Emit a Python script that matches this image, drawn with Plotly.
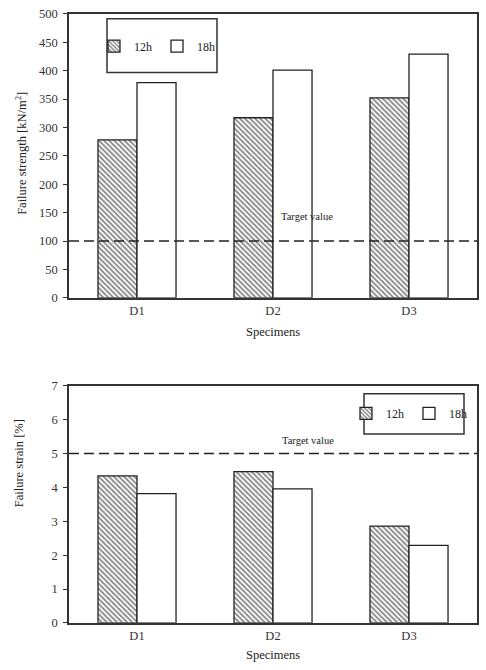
import plotly.graph_objects as go

# ---- data ----
specimens = ["D1", "D2", "D3"]
strength_12h = [278, 317, 352]
strength_18h = [379, 401, 429]
strain_12h = [4.34, 4.47, 2.86]
strain_18h = [3.82, 3.96, 2.29]
strength_target = 100
strain_target = 5
series_names = ["12h", "18h"]

W, H = 486, 670
FONT = "Liberation Serif"

def px_x(p):
    return p / W

def px_y(p):
    return 1 - p / H

hatch = dict(shape="\\", size=3.6, solidity=0.5, fgcolor="#111", bgcolor="white")
line = dict(color="#222", width=1.3)

fig = go.Figure()
# top chart
fig.add_trace(go.Bar(x=specimens, y=strength_12h, name=series_names[0], xaxis="x", yaxis="y",
                     marker=dict(color="white", pattern=hatch, line=line), legend="legend"))
fig.add_trace(go.Bar(x=specimens, y=strength_18h, name=series_names[1], xaxis="x", yaxis="y",
                     marker=dict(color="white", line=line), legend="legend"))
# bottom chart
fig.add_trace(go.Bar(x=specimens, y=strain_12h, name=series_names[0], xaxis="x2", yaxis="y2",
                     marker=dict(color="white", pattern=hatch, line=line), legend="legend2"))
fig.add_trace(go.Bar(x=specimens, y=strain_18h, name=series_names[1], xaxis="x2", yaxis="y2",
                     marker=dict(color="white", line=line), legend="legend2"))

tickfont = dict(family=FONT, size=12.5, color="#333")
xax = dict(showline=True, linecolor="#333", linewidth=1.6, mirror=True, ticks="",
           tickfont=tickfont, showgrid=False, zeroline=False, range=[-0.5, 2.5])
yax = dict(showline=True, linecolor="#333", linewidth=1.6, mirror=True, ticks="outside",
           ticklen=4, tickcolor="#333", tickfont=tickfont, showgrid=False, zeroline=False,
           ticklabelstandoff=3)

top_dom = [px_y(297), px_y(7)]
bot_dom = [px_y(629), px_y(387)]
xdom = [px_x(69), px_x(477)]

legfont = dict(family=FONT, size=12, color="#222")
fig.update_layout(
    width=W, height=H,
    margin=dict(l=0, r=0, t=0, b=0),
    paper_bgcolor="white", plot_bgcolor="white",
    barmode="group", bargap=0.426, bargroupgap=0,
    xaxis=dict(xax, domain=xdom, anchor="y"),
    yaxis=dict(yax, domain=top_dom, anchor="x", range=[0, 500], dtick=50),
    xaxis2=dict(xax, domain=xdom, anchor="y2"),
    yaxis2=dict(yax, domain=bot_dom, anchor="x2", range=[0, 7], dtick=1),
    legend=dict(orientation="h", x=px_x(157), y=px_y(40), xanchor="center", yanchor="middle",
                font=legfont, bgcolor="rgba(0,0,0,0)", borderwidth=0, itemwidth=30),
    legend2=dict(orientation="h", x=px_x(409), y=px_y(415), xanchor="center", yanchor="middle",
                 font=legfont, bgcolor="rgba(0,0,0,0)", borderwidth=0, itemwidth=30),
    showlegend=True,
)

# target lines
fig.add_shape(type="line", xref="x domain", yref="y", x0=0, x1=1, y0=strength_target, y1=strength_target,
              line=dict(color="#222", width=1.5, dash="10px,5px"))
fig.add_shape(type="line", xref="x2 domain", yref="y2", x0=0, x1=1, y0=strain_target, y1=strain_target,
              line=dict(color="#222", width=1.5, dash="10px,5px"))

# legend boxes
fig.add_shape(type="rect", xref="paper", yref="paper", x0=px_x(107), x1=px_x(217), y0=px_y(67), y1=px_y(12),
              line=dict(color="#333", width=1.5))
fig.add_shape(type="rect", xref="paper", yref="paper", x0=px_x(364), x1=px_x(464), y0=px_y(436), y1=px_y(395),
              line=dict(color="#333", width=1.5))

def ann(text, x, y, size=12.5, angle=0):
    fig.add_annotation(text=text, x=px_x(x), y=px_y(y), xref="paper", yref="paper",
                       showarrow=False, textangle=angle, xanchor="center", yanchor="middle",
                       font=dict(family=FONT, size=size, color="#222"))

ann("Target value", 307, 214, size=10.5)
ann("Target value", 308, 443, size=10.5)
ann("Specimens", 273, 332)
ann("Specimens", 273, 662)
ann("Failure strength [kN/m<sup>2</sup>]", 21, 150, angle=-90)
ann("Failure strain [%]", 19, 466, angle=-90)

fig.write_html("out.html")
